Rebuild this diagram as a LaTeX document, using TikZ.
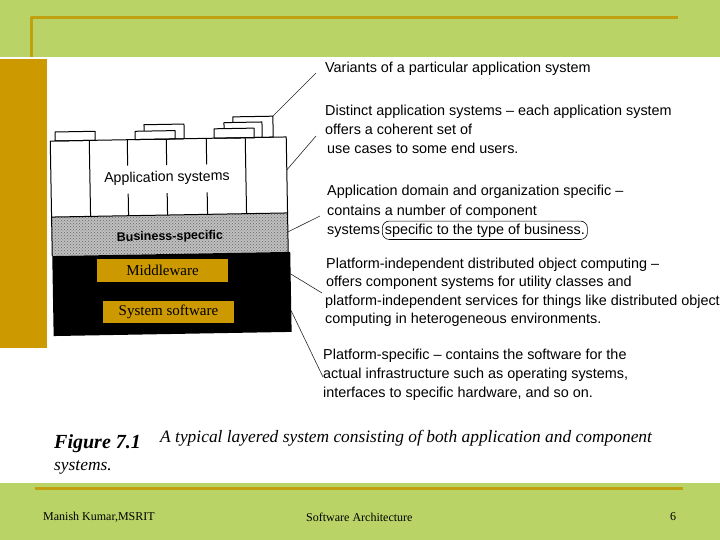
\documentclass[tikz,border=0pt]{standalone}
\usepackage{fontspec}
\setmainfont{Liberation Serif}
\newfontfamily\descfont{Liberation Sans}
\usetikzlibrary{patterns}
\definecolor{bandgreen}{RGB}{185,211,103}
\definecolor{rulegold}{RGB}{193,160,16}
\definecolor{stripgold}{RGB}{204,153,0}
\tikzset{
  desc/.style={anchor=base west, inner sep=0pt, font=\descfont\fontsize{14.4}{16}\selectfont},
  layerbox/.style={fill=stripgold, inner sep=0pt, font=\fontsize{15}{17}\selectfont},
  foot/.style={anchor=base west, inner sep=0pt, font=\fontsize{12}{14}\selectfont},
  capt/.style={anchor=base west, inner sep=0pt, font=\itshape\fontsize{17.4}{19}\selectfont},
  lead/.style={line width=0.6pt, black!85},
  tab/.style={draw, fill=white},
}
\begin{document}
\begin{tikzpicture}[x=1pt, y=-1pt, line join=round]
\useasboundingbox (0,0) rectangle (720,540);
% slide frame
\fill[bandgreen] (0,0) rectangle (720,57);
\fill[bandgreen] (0,483) rectangle (720,540);
\draw[rulegold, line width=3pt] (31,57)--(31,18)--(678,18);
\draw[rulegold, line width=3pt] (35,488)--(683,488);
\fill[stripgold] (0,59) rectangle (47,348);

% layered system (scanned figure, slightly tilted)
\begin{scope}[rotate around={1:(170,240)}, line width=1pt]
  \foreach \xa/\xb/\yt in {235/275/118, 226/264/123.6, 216/256/129.6, 146/186/124.3, 137/177/130.7, 57/97/130}
    \filldraw[tab] (\xa,139) rectangle (\xb,\yt);
  \fill[gray!50] (52,215) rectangle (288,254);
  \fill[pattern=crosshatch dots, pattern color=black!60] (52,215) rectangle (288,254);
  \fill[black] (52,254) rectangle (290,334);
  \draw (52,139) rectangle (288,215);
  \draw (52,215)--(52,254) (288,215)--(288,254);
  \foreach \x in {91,247} \draw (\x,139)--(\x,215);
  \foreach \x in {129,168,208} \draw (\x,139)--(\x,165) (\x,193)--(\x,215);
  \node[rotate=1, font=\descfont\fontsize{14.2}{16}\selectfont] (appsys) at (168,178) {Application systems};
  \node[rotate=1, font=\descfont\bfseries\fontsize{12.5}{14}\selectfont] (bizspec) at (170,237) {Business-specific};
  \path
  (275,118) coordinate (t1)
  (288,172) coordinate (t2)
  (288,234) coordinate (t3)
  (290,276) coordinate (t4)
  (290,313) coordinate (t5)
  ;
\end{scope}
\node[layerbox, minimum width=131pt, minimum height=23pt] (mid) at (162.5,270.5) {Middleware};
\node[layerbox, minimum width=131pt, minimum height=22pt] (syssw) at (168.5,312) {System software};

% descriptions
\node[desc] (var) at (325,73) {Variants of a particular application system};
\node[desc] (dist1) at (325,116) {Distinct application systems – each application system};
\node[desc] (dist2) at (325,135) {offers a coherent set of};
\node[desc] (dist3) at (327,154) {use cases to some end users.};
\node[desc] (dom1) at (327,196) {Application domain and organization specific –};
\node[desc] (dom2) at (327,215) {contains a number of component};
\node[desc] (dom3) at (327,234) {systems};
\node[desc, draw, rounded corners=7pt, inner sep=2.5pt, line width=0.6pt] (dom4) at (382,234) {specific to the type of business.};
\node[desc] (ind1) at (326,268) {Platform-independent distributed object computing –};
\node[desc] (ind2) at (326,286.5) {offers component systems for utility classes and};
\node[desc] (ind3) at (325,305) {platform-independent services for things like distributed object};
\node[desc] (ind4) at (325,323) {computing in heterogeneous environments.};
\node[desc] (spec1) at (323,359) {Platform-specific – contains the software for the};
\node[desc] (spec2) at (323,378) {actual infrastructure such as operating systems,};
\node[desc] (spec3) at (323,397) {interfaces to specific hardware, and so on.};

\path
(316,73) coordinate (e1)
(316,136) coordinate (e2)
(320,216) coordinate (e3)
(322,293) coordinate (e4)
(323,377) coordinate (e5)
;
\foreach \i in {1,...,5} \draw[lead] (t\i)--(e\i);

% caption
\node[capt, font=\bfseries\itshape\fontsize{20}{22}\selectfont] (figno) at (54,448) {Figure 7.1};
\node[capt] (figtext) at (160,442) {A typical layered system consisting of both application and component};
\node[capt] (figtext2) at (54,470) {systems.};

% footer
\node[foot] (author) at (43,520) {Manish Kumar,MSRIT};
\node[foot] (course) at (306,521) {Software Architecture};
\node[foot] (pageno) at (670,520) {6};
\end{tikzpicture}
\end{document}
